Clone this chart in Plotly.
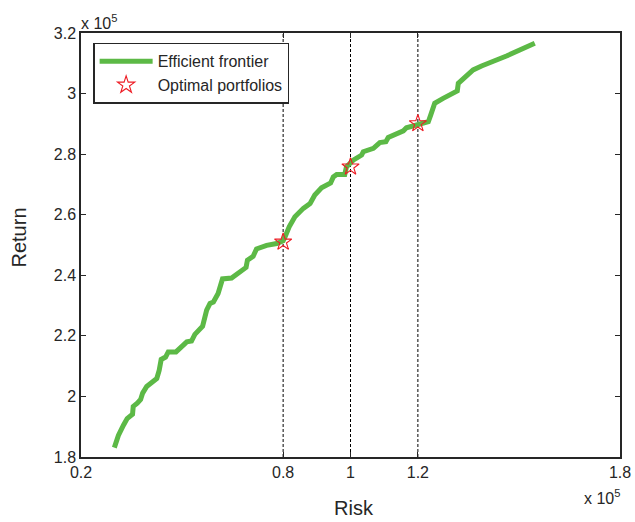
import plotly.graph_objects as go

risk = [0.299, 0.311, 0.326, 0.337, 0.353, 0.355, 0.367, 0.377, 0.383, 0.395, 0.410, 0.425,
        0.432, 0.438, 0.451, 0.459, 0.482, 0.499, 0.514, 0.528, 0.538, 0.561, 0.573, 0.583,
        0.593, 0.607, 0.620, 0.647, 0.667, 0.690, 0.694, 0.711, 0.721, 0.751, 0.781, 0.800,
        0.805, 0.818, 0.835, 0.860, 0.880, 0.894, 0.914, 0.941, 0.949, 0.959, 0.983, 0.988,
        1.008, 1.033, 1.038, 1.068, 1.087, 1.105, 1.112, 1.137, 1.157, 1.166, 1.191, 1.231,
        1.238, 1.250, 1.275, 1.317, 1.320, 1.335, 1.364, 1.389, 1.443, 1.463, 1.547]
ret = [1.831, 1.871, 1.905, 1.927, 1.941, 1.967, 1.978, 1.990, 2.011, 2.033, 2.046, 2.059,
       2.086, 2.122, 2.130, 2.147, 2.147, 2.163, 2.180, 2.183, 2.205, 2.232, 2.285, 2.307,
       2.312, 2.340, 2.388, 2.391, 2.408, 2.426, 2.450, 2.463, 2.487, 2.499, 2.505, 2.514,
       2.525, 2.560, 2.593, 2.621, 2.637, 2.665, 2.689, 2.705, 2.725, 2.733, 2.733, 2.758,
       2.780, 2.797, 2.808, 2.819, 2.838, 2.841, 2.855, 2.869, 2.877, 2.887, 2.896, 2.907,
       2.929, 2.968, 2.984, 3.009, 3.034, 3.048, 3.078, 3.091, 3.113, 3.124, 3.166]

opt_risk = [0.8, 1.0, 1.2]
opt_ret = [2.510, 2.758, 2.901]

x_ticks = [0.2, 0.8, 1, 1.2, 1.8]
x_tick_text = ["0.2", "0.8", "1", "1.2", "1.8"]
y_ticks = [1.8, 2.0, 2.2, 2.4, 2.6, 2.8, 3.0, 3.2]
y_tick_text = ["1.8", "2", "2.2", "2.4", "2.6", "2.8", "3", "3.2"]

fig = go.Figure()
fig.add_trace(go.Scatter(x=risk, y=ret, mode="lines", name="Efficient frontier",
                         line=dict(color="#5cb946", width=5)))
fig.add_trace(go.Scatter(x=opt_risk, y=opt_ret, mode="markers", name="Optimal portfolios",
                         marker=dict(symbol="star-open", color="#ee1c24", size=13,
                                     line=dict(width=1.1, color="#ee1c24"))))

for xv in opt_risk:
    fig.add_shape(type="line", x0=xv, x1=xv, y0=0, y1=1, xref="x", yref="paper",
                  line=dict(color="black", width=1, dash="3px,2px"), layer="below")

axis_common = dict(showgrid=False, zeroline=False, showline=True, linecolor="#262626",
                   linewidth=1.5, mirror="ticks", ticks="inside", ticklen=5,
                   tickcolor="#262626", tickfont=dict(size=16, color="#262626"))

fig.update_layout(
    width=635, height=522,
    margin=dict(l=81, r=15, t=33, b=65, autoexpand=False),
    paper_bgcolor="white", plot_bgcolor="white",
    font=dict(family="Liberation Sans, Arial, sans-serif", color="#262626"),
    xaxis=dict(range=[0.2, 1.8], tickvals=x_ticks, ticktext=x_tick_text, **axis_common),
    yaxis=dict(range=[1.8, 3.2], tickvals=y_ticks, ticktext=y_tick_text, **axis_common),
    showlegend=True,
    legend=dict(x=0.0225, y=0.977, xanchor="left", yanchor="top",
                bgcolor="white", bordercolor="#262626", borderwidth=1.5,
                font=dict(size=16, color="#262626"), itemwidth=53,
                tracegroupgap=0),
)

fig.add_annotation(text="Risk", xref="paper", yref="paper", x=0.5, y=0,
                   xanchor="center", yanchor="middle", showarrow=False,
                   font=dict(size=20, color="#262626"), xshift=3, yshift=-50.5)
fig.add_annotation(text="Return", xref="paper", yref="paper", x=0, y=0.5, textangle=-90,
                   xanchor="center", yanchor="middle", showarrow=False,
                   font=dict(size=20, color="#262626"), xshift=-63, yshift=7.5)
fig.add_annotation(text="x 10<sup>5</sup>", xref="paper", yref="paper", x=0, y=1,
                   xanchor="left", yanchor="bottom", showarrow=False,
                   font=dict(size=16, color="#262626"), xshift=-2, yshift=-1)
fig.add_annotation(text="x 10<sup>5</sup>", xref="paper", yref="paper", x=1, y=0,
                   xanchor="right", yanchor="top", showarrow=False,
                   font=dict(size=16, color="#262626"), yshift=-28, xshift=2)

fig.write_html("out.html")
